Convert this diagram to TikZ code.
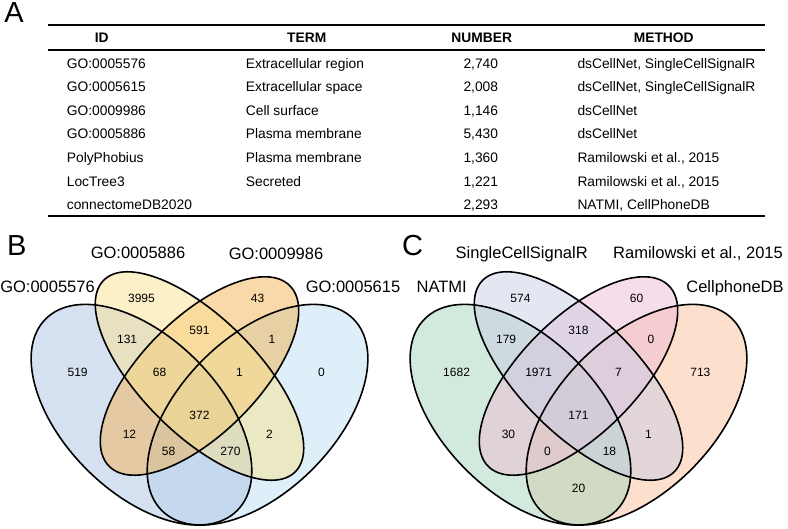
\documentclass[tikz,border=0pt]{standalone}
\usepackage{fontspec}
\setmainfont{Liberation Sans}
\definecolor{bBlue}{HTML}{ABC1E3}
\definecolor{bYellow}{HTML}{F9E191}
\definecolor{bOrange}{HTML}{F3B353}
\definecolor{bSky}{HTML}{BDDFF3}
\definecolor{cGreen}{HTML}{A5D5BD}
\definecolor{cLavender}{HTML}{C9CDE5}
\definecolor{cPink}{HTML}{EFBBD5}
\definecolor{cPeach}{HTML}{F9C19B}
\tikzset{
    cell/.style = {font=\fontsize{13.8}{16}\selectfont, inner sep=0, text height=9.9pt, text depth=0pt},
    head/.style = {cell, font=\fontsize{13.8}{16}\selectfont\bfseries},
    rule/.style = {line width=1.5pt},
    panel/.style = {font=\fontsize{29}{32}\selectfont, inner sep=0, text height=20.8pt, text depth=0pt},
    setname/.style = {font=\fontsize{16.5}{19}\selectfont, inner sep=0, text height=11.8pt, text depth=0pt},
    num/.style = {font=\fontsize{12}{14}\selectfont, inner sep=0, text height=8.6pt, text depth=0pt},
    outline/.style = {line width=1.6pt},
    tint/.style = {fill opacity=0.5}
}
\begin{document}
\begin{tikzpicture}[x=1pt,y=-1pt]
    \useasboundingbox (0,0) rectangle (788,529);
    % Panel letters
    \node[panel] (A) at (14,12.5) {A};
    \node[panel] (B) at (16.7,245) {B};
    \node[panel] (C) at (412.5,245) {C};
    % Table rules
    \draw[rule] (48,25) -- (765,25);
    \draw[rule] (48,50) -- (765,50);
    \draw[rule] (48,216) -- (765,216);
    % Table header
    \node[head] (hid) at (101.7,37.7) {ID};
    \node[head] (hterm) at (306.7,37.7) {TERM};
    \node[head] (hnum) at (481.7,37.7) {NUMBER};
    \node[head] (hmeth) at (663.7,37.7) {METHOD};
    % Table rows
    \foreach \id/\term/\num/\meth [count=\i] in {
        GO:0005576/Extracellular region/{2,740}/{dsCellNet, SingleCellSignalR},
        GO:0005615/Extracellular space/{2,008}/{dsCellNet, SingleCellSignalR},
        GO:0009986/Cell surface/{1,146}/dsCellNet,
        GO:0005886/Plasma membrane/{5,430}/dsCellNet,
        PolyPhobius/Plasma membrane/{1,360}/{Ramilowski et al., 2015},
        LocTree3/Secreted/{1,221}/{Ramilowski et al., 2015},
        connectomeDB2020//{2,293}/{NATMI, CellPhoneDB}}
    {
        \pgfmathsetmacro\rowy{63.4+23.55*(\i-1)}
        \node[cell,anchor=west] (id\i) at (66.7,\rowy) {\id};
        \node[cell,anchor=west] (term\i) at (245.7,\rowy) {\term};
        \node[cell] (num\i) at (480.8,\rowy) {\num};
        \node[cell,anchor=west] (meth\i) at (577.3,\rowy) {\meth};
    }
    % Venn B
    \begin{scope}[shift={(6,596.6)},x=387pt,y=387pt]
        \foreach \cx/\cy/\ang/\a/\b/\col in {0.65/0.47/45/0.35/0.20/bSky,
            0.35/0.47/135/0.35/0.20/bBlue, 0.5/0.57/45/0.33/0.15/bOrange,
            0.5/0.57/135/0.35/0.15/bYellow}
            \fill[\col,tint,rotate around={\ang:(\cx,\cy)}] (\cx,\cy) ellipse [x radius=\a, y radius=\b];
        \foreach \cx/\cy/\ang/\a/\b in {0.65/0.47/45/0.35/0.20, 0.35/0.47/135/0.35/0.20,
            0.5/0.57/45/0.33/0.15, 0.5/0.57/135/0.35/0.15}
            \draw[outline,rotate around={\ang:(\cx,\cy)}] (\cx,\cy) ellipse [x radius=\a, y radius=\b];
        \foreach \val/\x/\y [count=\i] in {3995/0.350/0.771, 43/0.650/0.771, 131/0.313/0.666,
            591/0.5/0.689, 1/0.687/0.666, 519/0.185/0.581, 68/0.397/0.581, 1/0.603/0.581,
            0/0.815/0.581, 372/0.5/0.469, 12/0.319/0.419, 2/0.681/0.419, 58/0.420/0.376,
            270/0.580/0.376}
            \node[num] (bn\i) at (\x,\y) {\val};
    \end{scope}
    \node[setname] (go5576) at (47.5,287) {GO:0005576};
    \node[setname] (go5886) at (138,253) {GO:0005886};
    \node[setname] (go9986) at (276,254) {GO:0009986};
    \node[setname] (go5615) at (353,287) {GO:0005615};
    % Venn C
    \begin{scope}[shift={(385,596.6)},x=387pt,y=387pt]
        \foreach \cx/\cy/\ang/\a/\b/\col in {0.65/0.47/45/0.35/0.20/cPeach,
            0.35/0.47/135/0.35/0.20/cGreen, 0.5/0.57/45/0.33/0.15/cPink,
            0.5/0.57/135/0.35/0.15/cLavender}
            \fill[\col,tint,rotate around={\ang:(\cx,\cy)}] (\cx,\cy) ellipse [x radius=\a, y radius=\b];
        \foreach \cx/\cy/\ang/\a/\b in {0.65/0.47/45/0.35/0.20, 0.35/0.47/135/0.35/0.20,
            0.5/0.57/45/0.33/0.15, 0.5/0.57/135/0.35/0.15}
            \draw[outline,rotate around={\ang:(\cx,\cy)}] (\cx,\cy) ellipse [x radius=\a, y radius=\b];
        \foreach \val/\x/\y [count=\i] in {574/0.350/0.771, 60/0.650/0.771, 179/0.313/0.666,
            318/0.5/0.689, 0/0.687/0.666, 1682/0.185/0.581, 1971/0.397/0.581, 7/0.603/0.581,
            713/0.815/0.581, 171/0.5/0.469, 30/0.319/0.419, 1/0.681/0.419, 0/0.420/0.376,
            18/0.580/0.376, 20/0.5/0.280}
            \node[num] (cn\i) at (\x,\y) {\val};
    \end{scope}
    \node[setname] (natmi) at (441.7,287) {NATMI};
    \node[setname] (scsr) at (521.7,253) {SingleCellSignalR};
    \node[setname] (rami) at (698,253) {Ramilowski et al., 2015};
    \node[setname] (cpdb) at (735,287) {CellphoneDB};
\end{tikzpicture}
\end{document}
